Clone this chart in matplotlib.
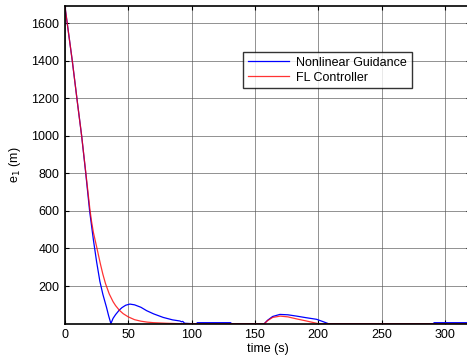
import matplotlib
matplotlib.use("Agg")
import matplotlib.pyplot as plt

# Nonlinear Guidance (blue)
t_ng = [0, 5.8, 10, 13.2, 16.3, 19.5, 22.4, 25, 27.6, 30, 32.9, 34.5, 36.3,
        38, 40, 42.9, 45, 48, 51.3, 55, 60, 64.5, 70, 77.6, 85, 90.8, 92, 93,
        94.5, 100, 104, 104.5, 130.8, 131.5, 157.4, 160, 164, 169.7, 176, 182.9,
        190, 198.7, 204, 207.9, 290.8, 291.5, 320]
e_ng = [1690, 1400, 1170, 1000, 810, 600, 450, 330, 225, 155, 85, 42, 0,
        28, 48, 72, 85, 98, 104, 100, 87, 69, 52, 33, 20, 14, 10, 12,
        2, 0, 0, 5, 5, 0, 0, 18, 38, 49, 47, 40,
        32, 23, 10, 0, 0, 5, 5]

# FL Controller (red)
t_fl = [0, 5.8, 10, 13.2, 16.3, 19.7, 21, 22.5, 25, 28, 30, 32, 35, 38, 40, 43,
        46, 50, 55, 60, 65, 70, 80, 90, 157.4, 160, 164, 170, 176, 183,
        190, 196, 200, 320]
e_fl = [1690, 1400, 1170, 1000, 815, 610, 545, 485, 410, 318, 262, 214, 158,
        117, 96, 71, 53, 36, 21, 13, 8, 5, 2, 0, 0, 16, 33, 40, 36, 25,
        15, 6, 0, 0]

xticks = [0, 50, 100, 150, 200, 250, 300]
yticks = [200, 400, 600, 800, 1000, 1200, 1400, 1600]

plt.rcParams['font.family'] = ['Liberation Sans', 'DejaVu Sans']

fig = plt.figure(figsize=(4.67, 3.62), dpi=100)
ax = fig.add_axes([0.139, 0.106, 0.868, 0.877])

ax.plot(t_ng, e_ng, color='blue', lw=0.9, label='Nonlinear Guidance')
ax.plot(t_fl, e_fl, color='red', lw=0.9, alpha=0.8, label='FL Controller')

ax.set_xlim(0, 320)
ax.set_ylim(0, 1690)
ax.set_xticks(xticks)
ax.set_yticks(yticks)
ax.tick_params(direction='in', top=True, right=True, labelsize=9, length=3,
               width=0.8, pad=4)
ax.grid(True, color='#555555', linestyle='-', linewidth=0.6, alpha=0.75)
for s in ax.spines.values():
    s.set_linewidth(1.2)

ax.set_xlabel('time (s)', fontsize=9, labelpad=1)
ax.set_ylabel('e$_1$ (m)', fontsize=9, labelpad=6)

leg = ax.legend(loc='upper left', bbox_to_anchor=(0.44, 0.855), fontsize=9,
                frameon=True, fancybox=False, edgecolor='black',
                handlelength=3.3, borderpad=0.35, labelspacing=0.25,
                handletextpad=0.6, borderaxespad=0)
leg.get_frame().set_linewidth(1.0)

fig.savefig('out.png', dpi=100)
